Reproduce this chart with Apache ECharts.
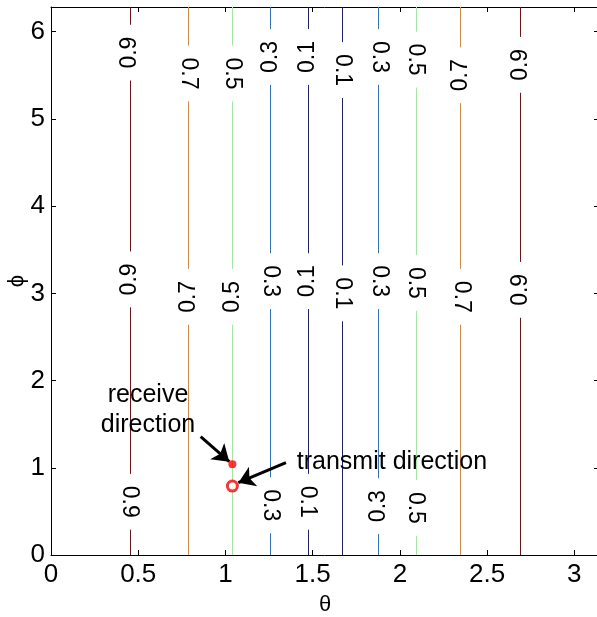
<!DOCTYPE html>
<html>
<head>
<meta charset="utf-8">
<script src="https://cdn.jsdelivr.net/npm/echarts@6/dist/echarts.min.js"></script>
<style>
  html, body { margin: 0; padding: 0; background: #fff; }
  #main { width: 597px; height: 617px; }
</style>
</head>
<body>
<div id="main"></div>
<script>
// contour levels and where each vertical contour line sits (theta)
var levels   = [0.9, 0.7, 0.5, 0.3, 0.1, 0.1, 0.3, 0.5, 0.7, 0.9];
var thetaPos = [0.45, 0.79, 1.04, 1.26, 1.47, 1.67, 1.88, 2.09, 2.35, 2.69];

// inline contour labels (phi position + text rotation), three rows
var labelTopY   = [5.76, 5.52, 5.52, 5.71, 5.71, 5.56, 5.71, 5.68, 5.50, 5.62];
var labelTopRot = [90, -90, -90, 90, 90, -90, -90, -90, 90, 90];
var labelMidY   = [3.16, 2.96, 2.96, 3.14, 3.14, 3.00, 3.14, 3.12, 2.96, 3.04];
var labelMidRot = [90, 90, 90, -90, 90, -90, -90, -90, -90, 90];
var labelLowY   = [0.61, null, null, 0.57, 0.61, null, 0.56, 0.54, null, null];
var labelLowRot = [-90, 0, 0, -90, -90, 0, 90, -90, 0, 0];

// marked directions
var receivePt  = [1.04, 1.04];
var transmitPt = [1.04, 0.79];
var receiveArrow  = [[0.858, 1.356], [1.022, 1.070]];
var transmitArrow = [[1.347, 1.058], [1.074, 0.829]];

// annotation texts: theta, phi, text, align
var annotations = [
    [0.556, 1.834, 'receive', 'center'],
    [0.556, 1.490, 'direction', 'center'],
    [1.409, 1.066, 'transmit direction', 'left']
];

// tick labels
var xTicks = [0, 0.5, 1, 1.5, 2, 2.5, 3];
var yTicks = [0, 1, 2, 3, 4, 5, 6];

var levelColor = { '0.9': '#a00000', '0.7': '#ff8000', '0.5': '#80ff80', '0.3': '#0080ff', '0.1': '#1a1aa0' };
var FONT = '"Liberation Sans", Arial, sans-serif';
var PHI_MAX = Math.PI * 2;
var GAP = 0.32; // half height of the break in a line around its label

// build segments (lines broken where the labels sit) and label items
var segs = [];
var labels = [];
for (var i = 0; i < levels.length; i++) {
    var ys = [];
    [[labelTopY, labelTopRot], [labelMidY, labelMidRot], [labelLowY, labelLowRot]].forEach(function (row) {
        if (row[0][i] != null) {
            ys.push(row[0][i]);
            labels.push([thetaPos[i], row[0][i], levels[i], row[1][i]]);
        }
    });
    ys.sort(function (a, b) { return a - b; });
    var start = 0;
    ys.forEach(function (y) {
        segs.push([thetaPos[i], start, y - GAP, levels[i]]);
        start = y + GAP;
    });
    segs.push([thetaPos[i], start, PHI_MAX, levels[i]]);
}

var myChart = echarts.init(document.getElementById('main'));

var tickLabelFmt = function (list) {
    return function (v) {
        for (var k = 0; k < list.length; k++) {
            if (Math.abs(list[k] - v) < 1e-6) return String(list[k]);
        }
        return '';
    };
};

var option = {
    animation: false,
    backgroundColor: '#fff',
    grid: { left: 51, top: 7, width: 548, height: 548, outerBoundsMode: 'none', containLabel: false },
    xAxis: [{
        type: 'value', min: 0, max: Math.PI, interval: 0.5,
        name: 'θ', nameLocation: 'middle', nameGap: 39, nameMoveOverlap: false,
        nameTextStyle: { color: '#000', fontSize: 22, fontFamily: FONT },
        axisLine: { onZero: false, lineStyle: { color: '#000', width: 1 } },
        axisTick: { inside: true, length: 5, lineStyle: { color: '#000' } },
        axisLabel: { color: '#000', fontSize: 26, fontFamily: FONT, margin: 7, showMaxLabel: false, formatter: tickLabelFmt(xTicks) },
        splitLine: { show: false }
    }, {
        type: 'value', min: 0, max: Math.PI, interval: 0.5, position: 'top',
        axisLine: { onZero: false, lineStyle: { color: '#000', width: 1 } },
        axisTick: { inside: true, length: 5, lineStyle: { color: '#000' } },
        axisLabel: { show: false },
        splitLine: { show: false }
    }],
    yAxis: [{
        type: 'value', min: 0, max: PHI_MAX, interval: 1,
        name: 'ϕ', nameLocation: 'middle', nameGap: 23, nameMoveOverlap: false,
        nameTextStyle: { color: '#000', fontSize: 22, fontFamily: FONT },
        axisLine: { onZero: false, lineStyle: { color: '#000', width: 1 } },
        axisTick: { inside: true, length: 5, lineStyle: { color: '#000' } },
        axisLabel: { color: '#000', fontSize: 26, fontFamily: FONT, margin: 6, showMaxLabel: false, formatter: tickLabelFmt(yTicks) },
        splitLine: { show: false }
    }, {
        type: 'value', min: 0, max: PHI_MAX, interval: 1, position: 'right',
        axisLine: { onZero: false, lineStyle: { color: '#000', width: 1 } },
        axisTick: { inside: true, length: 5, lineStyle: { color: '#000' } },
        axisLabel: { show: false },
        splitLine: { show: false }
    }],
    series: [{
        // contour lines, snapped to an even pixel column so the thin coloured lines keep their colour
        type: 'custom',
        data: segs,
        renderItem: function (params, api) {
            var a = api.coord([api.value(0), api.value(1)]);
            var b = api.coord([api.value(0), api.value(2)]);
            var px = 2 * Math.round(a[0] / 2) + 0.5;
            return {
                type: 'line',
                shape: { x1: px, y1: a[1], x2: px, y2: b[1] },
                style: { stroke: levelColor[api.value(3).toFixed(1)], lineWidth: 1 }
            };
        },
        silent: true
    }, {
        // contour labels
        type: 'custom',
        data: labels,
        renderItem: function (params, api) {
            var p = api.coord([api.value(0), api.value(1)]);
            return {
                type: 'text',
                x: p[0], y: p[1],
                rotation: api.value(3) * Math.PI / 180,
                style: {
                    text: api.value(2).toFixed(1),
                    fill: '#000',
                    fontSize: 23,
                    fontFamily: FONT,
                    align: 'center',
                    verticalAlign: 'middle'
                }
            };
        },
        silent: true
    }, {
        // arrows
        type: 'lines',
        coordinateSystem: 'cartesian2d',
        symbol: ['none', 'arrow'],
        symbolSize: 16,
        lineStyle: { color: '#000', width: 3, opacity: 1 },
        data: [{ coords: receiveArrow }, { coords: transmitArrow }],
        silent: true
    }, {
        // receive direction
        type: 'scatter',
        symbol: 'circle',
        symbolSize: 8,
        itemStyle: { color: '#ff0000' },
        data: [receivePt],
        silent: true
    }, {
        // transmit direction
        type: 'scatter',
        symbol: 'circle',
        symbolSize: 10,
        itemStyle: { color: '#fff', borderColor: '#ff0000', borderWidth: 3 },
        data: [transmitPt],
        silent: true
    }, {
        // annotation text
        type: 'custom',
        data: annotations.map(function (d) { return [d[0], d[1]]; }),
        renderItem: function (params, api) {
            var d = annotations[params.dataIndex];
            var p = api.coord([d[0], d[1]]);
            return {
                type: 'text',
                x: p[0], y: p[1],
                style: { text: d[2], fill: '#000', fontSize: 25, fontFamily: FONT, align: d[3], verticalAlign: 'middle' }
            };
        },
        silent: true
    }]
};

myChart.setOption(option);
</script>
</body>
</html>
